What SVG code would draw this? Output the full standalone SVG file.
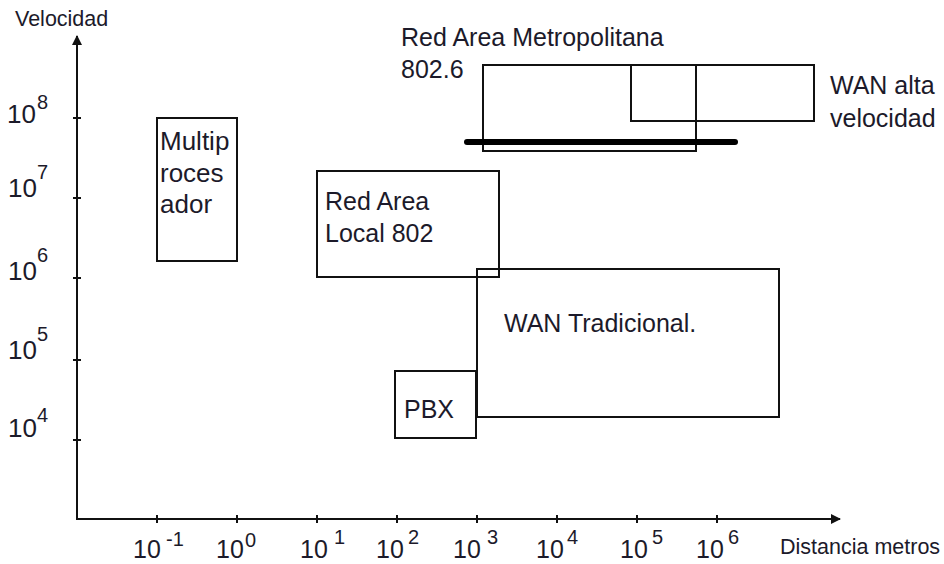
<svg xmlns="http://www.w3.org/2000/svg" width="944" height="564" viewBox="0 0 944 564">
<style>
text{font-family:"Liberation Sans",Arial,sans-serif;fill:#1c1a2a}
.lbl{font-size:25px}
.big{font-size:26px}
.xb{font-size:25px}
.sup{font-size:20px}
.ax{font-size:21.5px}
.box{fill:none;stroke:#111;stroke-width:2}
.axis{stroke:#111;stroke-width:2;fill:none}
</style>
<defs>
<marker id="arr" viewBox="0 0 10 10" refX="9" refY="5" markerWidth="5" markerHeight="5" orient="auto" markerUnits="strokeWidth">
<path d="M0,0 L10,5 L0,10 z" fill="#111"/>
</marker>
</defs>
<rect width="944" height="564" fill="#fff"/>
<g id="axes">
<line class="axis" x1="77" y1="519" x2="77" y2="36" marker-end="url(#arr)"/>
<line class="axis" x1="76" y1="519" x2="840" y2="519" marker-end="url(#arr)"/>
<path class="axis" d="M73,118h8M73,198h8M73,278h8M73,360h8M73,440h8"/>
<path class="axis" d="M157,515v8M237,515v8M317,515v8M397,515v8M477,515v8M557,515v8M637,515v8M717,515v8"/>
<text class="ax" x="15" y="26">Velocidad</text>
<text class="ax" x="780" y="554">Distancia metros</text>
<g class="ylabels">
<text class="big" x="7" y="123">10</text><text class="sup" x="37" y="109">8</text>
<text class="big" x="8" y="197">10</text><text class="sup" x="37" y="179">7</text>
<text class="big" x="8" y="280">10</text><text class="sup" x="37" y="262">6</text>
<text class="big" x="8" y="359">10</text><text class="sup" x="37" y="341">5</text>
<text class="big" x="8" y="437">10</text><text class="sup" x="37" y="422">4</text>
</g>
<g class="xlabels">
<text class="xb" x="133" y="558">10</text><text class="sup" x="166" y="546">-1</text>
<text class="xb" x="216" y="558">10</text><text class="sup" x="245" y="547">0</text>
<text class="xb" x="300" y="558">10</text><text class="sup" x="334" y="544">1</text>
<text class="xb" x="376" y="558">10</text><text class="sup" x="408" y="544">2</text>
<text class="xb" x="453" y="558">10</text><text class="sup" x="487" y="544">3</text>
<text class="xb" x="536" y="558">10</text><text class="sup" x="567" y="544">4</text>
<text class="xb" x="620" y="558">10</text><text class="sup" x="652" y="544">5</text>
<text class="xb" x="696" y="558">10</text><text class="sup" x="728" y="544">6</text>
</g>
</g>
<g id="multiprocesador">
<rect class="box" x="157" y="118" width="80" height="143"/>
<text class="big" x="160" y="150">Multip</text>
<text class="big" x="160" y="182">roces</text>
<text class="big" x="160" y="213">ador</text>
</g>
<g id="red-area-local">
<rect class="box" x="317" y="171" width="182" height="106"/>
<text class="lbl" x="325" y="210">Red Area</text>
<text class="lbl" x="325" y="242">Local 802</text>
</g>
<g id="red-area-metropolitana">
<rect class="box" x="483" y="65" width="213" height="86"/>
<text class="lbl" x="401" y="46">Red Area Metropolitana</text>
<text class="lbl" x="401" y="78">802.6</text>
</g>
<g id="wan-alta-velocidad">
<rect class="box" x="631" y="65" width="183" height="56"/>
<text class="lbl" x="830" y="94">WAN alta</text>
<text class="lbl" x="830" y="127">velocidad</text>
</g>
<g id="wan-tradicional">
<rect class="box" x="477" y="269" width="302" height="148"/>
<text class="lbl" x="504" y="332">WAN Tradicional.</text>
</g>
<g id="pbx">
<rect class="box" x="395" y="371" width="81" height="67"/>
<text class="lbl" x="404" y="418">PBX</text>
</g>
<g id="connectors">
<line x1="467" y1="142" x2="735" y2="142" stroke="#000" stroke-width="6" stroke-linecap="round"/>
</g>
</svg>
